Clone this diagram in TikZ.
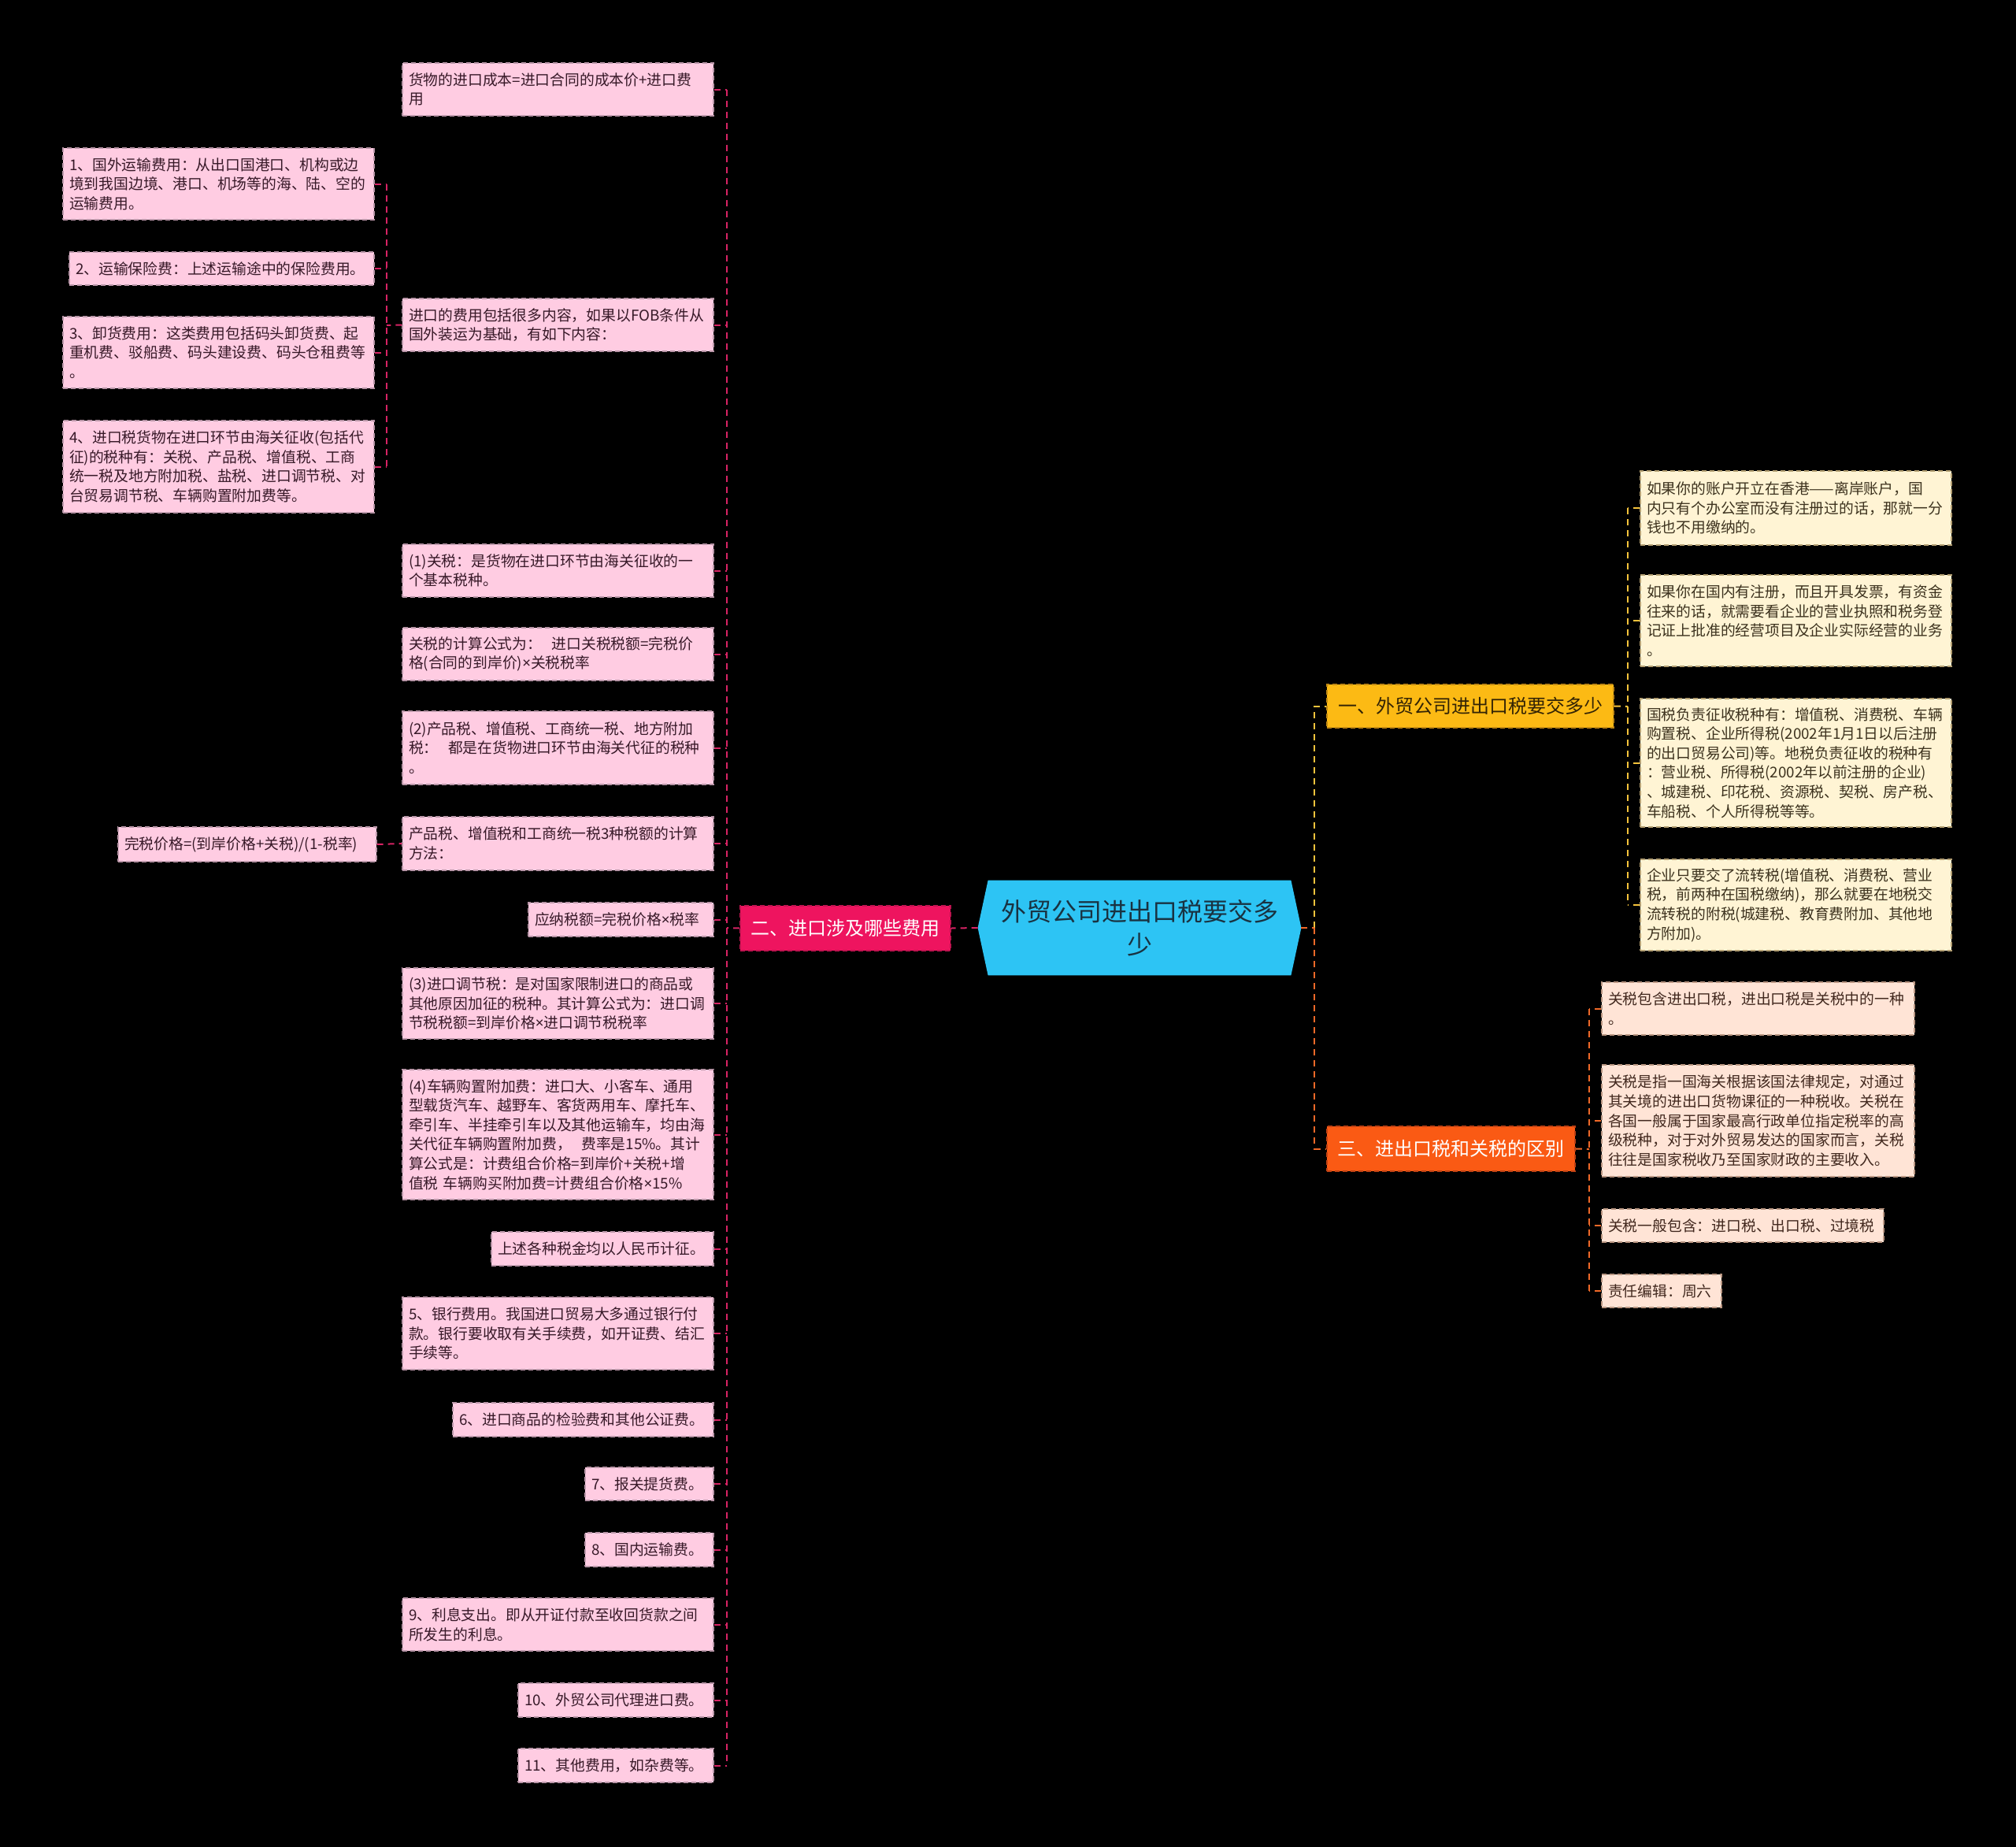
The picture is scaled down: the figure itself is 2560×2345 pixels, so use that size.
\documentclass[tikz,border=0pt]{standalone}
\usepackage{fontspec}
\setmainfont{Noto Sans CJK SC}
\newfontfamily\latf{Noto Sans}
\newcommand\mytimes{{\latf ×}}
\usetikzlibrary{backgrounds}
\definecolor{cyanc}{RGB}{45,196,244}
\definecolor{cyant}{RGB}{25,50,65}
\definecolor{redb}{RGB}{238,20,95}
\definecolor{redd}{RGB}{190,20,80}
\definecolor{lcon}{RGB}{215,35,100}
\definecolor{pinkF}{RGB}{255,204,226}
\definecolor{pinkD}{RGB}{185,150,168}
\definecolor{pinkT}{RGB}{55,25,40}
\definecolor{amb}{RGB}{252,186,20}
\definecolor{ambD}{RGB}{190,135,20}
\definecolor{ambT}{RGB}{50,35,5}
\definecolor{creF}{RGB}{255,244,212}
\definecolor{creD}{RGB}{180,160,115}
\definecolor{creT}{RGB}{60,50,30}
\definecolor{yc}{RGB}{245,195,60}
\definecolor{orb}{RGB}{250,90,20}
\definecolor{orD}{RGB}{190,65,20}
\definecolor{oc}{RGB}{240,105,40}
\definecolor{peaF}{RGB}{255,228,214}
\definecolor{peaD}{RGB}{185,150,130}
\definecolor{peaT}{RGB}{65,40,30}
\newcommand\mybox[7]{%
  \pgfmathsetmacro\bxw{(#5-#3)*0.5}%
  \pgfmathsetmacro\bxh{(#6-#4)*0.5}%
  \pgfmathsetmacro\bxt{(#5-#3)*0.5-8}%
  \node[#1, minimum width=\bxw pt, minimum height=\bxh pt, text width=\bxt pt] (#2) at ({(#3+#5)/2},{(#4+#6)/2}) {#7};}
\begin{document}
\begin{tikzpicture}[x=0.5pt,y=-0.5pt,
  boxbase/.style={line width=0.7pt, dash pattern=on 3pt off 2pt, align=left, inner xsep=4pt, inner ysep=2pt, font=\fontsize{9.4}{12.3}\selectfont},
  pbox/.style={boxbase, fill=pinkF, draw=pinkD, text=pinkT},
  cbox/.style={boxbase, fill=creF, draw=creD, text=creT},
  ebox/.style={boxbase, fill=peaF, draw=peaD, text=peaT},
  branch/.style={line width=0.8pt, dash pattern=on 3pt off 2pt, align=center, inner xsep=4pt, inner ysep=2pt, font=\fontsize{12}{15}\selectfont},
  lc/.style={draw=lcon, line width=1pt, dash pattern=on 4pt off 3pt},
  yl/.style={draw=yc, line width=1pt, dash pattern=on 4pt off 3pt},
  ol/.style={draw=oc, line width=1pt, dash pattern=on 4pt off 3pt}]
\begin{scope}[on background layer]
\fill[black] (0,0) rectangle (2560,2345);
\end{scope}
\useasboundingbox (0,0) rectangle (2560,2345);

% central node
\node[minimum width=205pt, minimum height=60pt, text width=190pt, align=center, text=cyant, font=\fontsize{16}{21}\selectfont, inner sep=0pt] (c) at (1447,1178) {外贸公司进出口税要交多\\少};
\begin{scope}[on background layer]
\fill[cyanc] (c.west) -- ([xshift=6.5pt]c.north west) -- ([xshift=-6.5pt]c.north east) -- (c.east) -- ([xshift=-6.5pt]c.south east) -- ([xshift=6.5pt]c.south west) -- cycle;
\end{scope}

% branches
\mybox{branch, fill=redb, draw=redd, text=white}{er}{940}{1150}{1207}{1207}{二、进口涉及哪些费用}
\mybox{branch, fill=amb, draw=ambD, text=ambT}{yi}{1685}{869}{2049}{924}{一、外贸公司进出口税要交多少}
\mybox{branch, fill=orb, draw=orD, text=white}{san}{1685}{1430}{2000}{1487}{三、进出口税和关税的区别}

% left column B
\mybox{pbox}{b1}{511}{80}{906}{147}{货物的进口成本=进口合同的成本价+进口费\\用}
\mybox{pbox}{b2}{511}{379}{906}{446}{进口的费用包括很多内容，如果以FOB条件从\\国外装运为基础，有如下内容：}
\mybox{pbox}{b3}{511}{691}{906}{758}{(1)关税：是货物在进口环节由海关征收的一\\个基本税种。}
\mybox{pbox}{b4}{511}{797}{906}{864}{关税的计算公式为：\ \ 进口关税税额=完税价\\格(合同的到岸价)\mytimes 关税税率}
\mybox{pbox}{b5}{511}{903}{906}{996}{(2)产品税、增值税、工商统一税、地方附加\\税：\ \ 都是在货物进口环节由海关代征的税种\\。}
\mybox{pbox}{b6}{511}{1037}{906}{1105}{产品税、增值税和工商统一税3种税额的计算\\方法：}
\mybox{pbox}{b7}{671}{1146}{906}{1189}{应纳税额=完税价格\mytimes 税率}
\mybox{pbox}{b8}{511}{1229}{906}{1319}{(3)进口调节税：是对国家限制进口的商品或\\其他原因加征的税种。其计算公式为：进口调\\节税税额=到岸价格\mytimes 进口调节税税率}
\mybox{pbox}{b9}{511}{1358}{906}{1523}{(4)车辆购置附加费：进口大、小客车、通用\\型载货汽车、越野车、客货两用车、摩托车、\\牵引车、半挂牵引车以及其他运输车，均由海\\关代征车辆购置附加费，\ \ 费率是15\%。其计\\算公式是：计费组合价格=到岸价+关税+增\\值税 车辆购买附加费=计费组合价格\mytimes 15\%}
\mybox{pbox}{b10}{624}{1564}{906}{1607}{上述各种税金均以人民币计征。}
\mybox{pbox}{b11}{511}{1647}{906}{1739}{5、银行费用。我国进口贸易大多通过银行付\\款。银行要收取有关手续费，如开证费、结汇\\手续等。}
\mybox{pbox}{b12}{575}{1781}{906}{1824}{6、进口商品的检验费和其他公证费。}
\mybox{pbox}{b13}{743}{1863}{906}{1905}{7、报关提货费。}
\mybox{pbox}{b14}{743}{1946}{906}{1989}{8、国内运输费。}
\mybox{pbox}{b15}{511}{2029}{906}{2096}{9、利息支出。即从开证付款至收回货款之间\\所发生的利息。}
\mybox{pbox}{b16}{658}{2137}{906}{2180}{10、外贸公司代理进口费。}
\mybox{pbox}{b17}{658}{2220}{906}{2263}{11、其他费用，如杂费等。}

% left column A
\mybox{pbox}{a1}{80}{188}{475}{279}{1、国外运输费用：从出口国港口、机构或边\\境到我国边境、港口、机场等的海、陆、空的\\运输费用。}
\mybox{pbox}{a2}{88}{320}{475}{362}{2、运输保险费：上述运输途中的保险费用。}
\mybox{pbox}{a3}{80}{402}{475}{493}{3、卸货费用：这类费用包括码头卸货费、起\\重机费、驳船费、码头建设费、码头仓租费等\\。}
\mybox{pbox}{a4}{80}{534}{475}{651}{4、进口税货物在进口环节由海关征收(包括代\\征)的税种有：关税、产品税、增值税、工商\\统一税及地方附加税、盐税、进口调节税、对\\台贸易调节税、车辆购置附加费等。}
\mybox{pbox}{c1}{150}{1050}{478}{1094}{完税价格=(到岸价格+关税)/(1-税率)}

% right: 一 children
\mybox{cbox}{r1}{2083}{598}{2478}{692}{如果你的账户开立在香港——离岸账户，国\\内只有个办公室而没有注册过的话，那就一分\\钱也不用缴纳的。}
\mybox{cbox}{r2}{2083}{730}{2478}{846}{如果你在国内有注册，而且开具发票，有资金\\往来的话，就需要看企业的营业执照和税务登\\记证上批准的经营项目及企业实际经营的业务\\。}
\mybox{cbox}{r3}{2083}{887}{2478}{1050}{国税负责征收税种有：增值税、消费税、车辆\\购置税、企业所得税(2002年1月1日以后注册\\的出口贸易公司)等。地税负责征收的税种有\\：营业税、所得税(2002年以前注册的企业)\\、城建税、印花税、资源税、契税、房产税、\\车船税、个人所得税等等。}
\mybox{cbox}{r4}{2083}{1091}{2478}{1207}{企业只要交了流转税(增值税、消费税、营业\\税，前两种在国税缴纳)，那么就要在地税交\\流转税的附税(城建税、教育费附加、其他地\\方附加)。}

% right: 三 children
\mybox{ebox}{t1}{2034}{1247}{2431}{1314}{关税包含进出口税，进出口税是关税中的一种\\。}
\mybox{ebox}{t2}{2034}{1352}{2431}{1494}{关税是指一国海关根据该国法律规定，对通过\\其关境的进出口货物课征的一种税收。关税在\\各国一般属于国家最高行政单位指定税率的高\\级税种，对于对外贸易发达的国家而言，关税\\往往是国家税收乃至国家财政的主要收入。}
\mybox{ebox}{t3}{2034}{1535}{2392}{1577}{关税一般包含：进口税、出口税、过境税}
\mybox{ebox}{t4}{2034}{1618}{2186}{1660}{责任编辑：周六}

% ---- connectors ----
\coordinate (tk) at (923,1178);
\coordinate (ta) at (491,413);
\coordinate (rt) at (1669,1178);
\coordinate (yt) at (2067,897);
\coordinate (st) at (2018,1459);

% centre to 二
\draw[lc] (c.west) -- (er.east);
\draw[lc] (er.west) -- (tk);
\draw[lc] (b1.east -| tk) -- (b17.east -| tk);
\foreach \n in {b1,b2,b3,b4,b5,b6,b7,b8,b9,b10,b11,b12,b13,b14,b15,b16,b17}
  \draw[lc] (\n.east) -- (\n.east -| tk);
% column A to b2
\draw[lc] (b2.west) -- (ta);
\draw[lc] (a1.east -| ta) -- (a4.east -| ta);
\foreach \n in {a1,a2,a3,a4}
  \draw[lc] (\n.east) -- (\n.east -| ta);
\draw[lc] (c1.east) -- (b6.west);

% right side
\draw[yl] (rt) |- (yi.west);
\draw[ol] (rt) |- (san.west);
\draw[ol] (c.east) -- (rt);

\draw[yl] (yi.east) -- (yt);
\draw[yl] (r1.west -| yt) -- (r4.west -| yt);
\foreach \n in {r1,r2,r3,r4}
  \draw[yl] (\n.west) -- (\n.west -| yt);

\draw[ol] (san.east) -- (st);
\draw[ol] (t1.west -| st) -- (t4.west -| st);
\foreach \n in {t1,t2,t3,t4}
  \draw[ol] (\n.west) -- (\n.west -| st);
\end{tikzpicture}
\end{document}
